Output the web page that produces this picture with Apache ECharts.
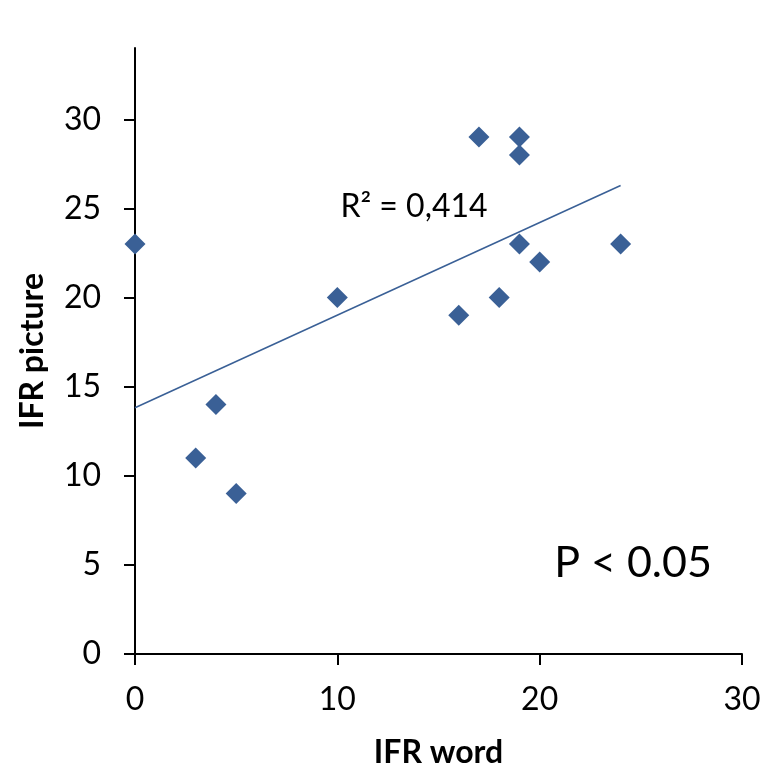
<!DOCTYPE html>
<html>
<head>
<meta charset="utf-8">
<script src="https://cdn.jsdelivr.net/npm/echarts@6/dist/echarts.min.js"></script>
<style>
  html, body { margin: 0; padding: 0; background: #fff; }
  #chart { width: 768px; height: 772px; }
</style>
</head>
<body>
<div id="chart"></div>
<script>
const ifrWord = [0, 3, 4, 5, 10, 16, 17, 18, 19, 19, 19, 20, 24];
const ifrPicture = [23, 11, 14, 9, 20, 19, 29, 20, 29, 28, 23, 22, 23];
const xTicks = [0, 10, 20, 30];
const yTicks = [0, 5, 10, 15, 20, 25, 30];

// least squares trend line, like Excel's linear trendline
function fitLine(xs, ys) {
    const n = xs.length;
    let mx = 0, my = 0;
    for (let i = 0; i < n; i++) { mx += xs[i]; my += ys[i]; }
    mx /= n; my /= n;
    let sxy = 0, sxx = 0;
    for (let i = 0; i < n; i++) {
        sxy += (xs[i] - mx) * (ys[i] - my);
        sxx += (xs[i] - mx) * (xs[i] - mx);
    }
    const slope = sxy / sxx;
    return { slope: slope, intercept: my - slope * mx };
}

const fit = fitLine(ifrWord, ifrPicture);
const xMin = Math.min(...ifrWord), xMax = Math.max(...ifrWord);
const trend = [
    [xMin, fit.intercept + fit.slope * xMin],
    [xMax, fit.intercept + fit.slope * xMax],
];

const font = "Lato, 'Open Sans', sans-serif";
let myChart = echarts.init(document.getElementById("chart"));
option = {
    backgroundColor: "#fff",
    animation: false,
    grid: { left: 135, right: 26, top: 48, bottom: 118, outerBoundsMode: "none", containLabel: false },
    xAxis: {
        type: "value",
        min: 0,
        max: 30,
        interval: 10,
        name: "IFR word",
        nameLocation: "middle",
        nameGap: 83,
        nameMoveOverlap: false,
        nameTextStyle: { fontFamily: font, fontSize: 32, fontWeight: "bold", color: "#000" },
        splitLine: { show: false },
        axisLine: { onZero: false, lineStyle: { color: "#000", width: 2 } },
        axisTick: { show: true, inside: false, length: 11, lineStyle: { color: "#000", width: 2 } },
        axisLabel: { fontFamily: font, fontSize: 32, color: "#000", margin: 30 },
    },
    yAxis: {
        type: "value",
        min: 0,
        max: 34,
        name: "IFR picture",
        nameLocation: "middle",
        nameGap: 86,
        nameMoveOverlap: false,
        nameTextStyle: { fontFamily: font, fontSize: 32, fontWeight: "bold", color: "#000" },
        splitLine: { show: false },
        axisLine: { show: true, onZero: false, lineStyle: { color: "#000", width: 2 } },
        axisTick: { show: true, length: 11, customValues: yTicks, lineStyle: { color: "#000", width: 2 } },
        axisLabel: { fontFamily: font, fontSize: 32, color: "#000", margin: 34, customValues: yTicks },
    },
    series: [
        {
            name: "data",
            type: "scatter",
            symbol: "diamond",
            symbolSize: [21, 21],
            itemStyle: { color: "#3A6096", opacity: 1 },
            data: ifrWord.map((x, i) => [x, ifrPicture[i]]),
            z: 3,
        },
        {
            name: "trend",
            type: "line",
            data: trend,
            symbol: "none",
            lineStyle: { color: "#3A6096", width: 1.5 },
            z: 2,
        },
    ],
    graphic: [
        {
            type: "text",
            x: 414, y: 207,
            style: { text: "R² = 0,414", fontFamily: font, fontSize: 32, fill: "#000", align: "center", verticalAlign: "middle" },
        },
        {
            type: "text",
            x: 633, y: 563,
            style: { text: "P < 0.05", fontFamily: font, fontSize: 43, fill: "#000", align: "center", verticalAlign: "middle" },
        },
    ],
};
myChart.setOption(option);
window.addEventListener("resize", function () {
    myChart.resize();
});
</script>
</body>
</html>
